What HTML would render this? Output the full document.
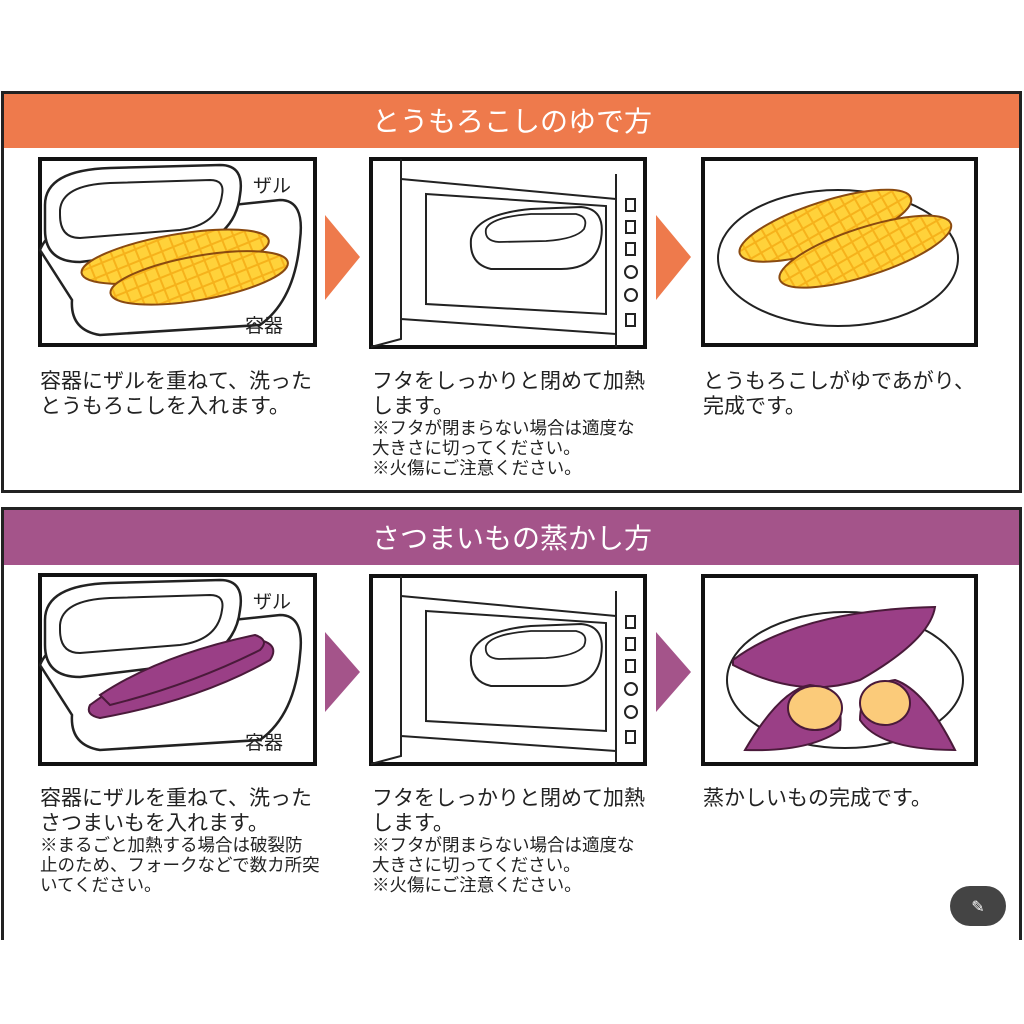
<!DOCTYPE html>
<html><head><meta charset="utf-8"><style>
html,body{margin:0;padding:0;background:#fff;width:1024px;height:1024px;overflow:hidden}
svg{position:absolute;left:0;top:0}
text{font-family:"Liberation Sans","Noto Sans CJK JP",sans-serif}
</style></head><body>
<svg width="1024" height="1024" viewBox="0 0 1024 1024">
<defs>
<pattern id="grid" width="12" height="12" patternUnits="userSpaceOnUse" patternTransform="rotate(-12)">
<rect width="12" height="12" fill="#F6B21B"/><rect x="1" y="1" width="10" height="10" fill="#FFD23A"/>
</pattern>
<g id="cont">
<path d="M40 250 Q50 225 90 220 L280 200 Q305 200 300 240 Q295 300 260 325 L100 335 Q70 330 72 300 Z" fill="#fff" stroke="#222" stroke-width="2.5"/>
<path d="M45 205 Q45 170 110 168 L220 165 Q245 165 240 195 Q235 240 180 250 L80 262 Q45 262 45 230 Z" fill="#fff" stroke="#222" stroke-width="2.5"/>
<path d="M60 210 Q62 185 110 183 L210 180 Q225 180 222 195 Q218 225 180 230 L80 238 Q60 238 60 215 Z" fill="none" stroke="#222" stroke-width="2"/>
</g>
<g id="micro">
<rect x="0" y="0" width="274" height="188" fill="#fff" stroke="#111" stroke-width="4"/>
<path d="M30 0 V180 L0 188 M30 20 L245 40 M30 160 L245 175 M245 15 V188" fill="none" stroke="#222" stroke-width="2"/>
<path d="M55 35 L235 47 V155 L55 145 Z" fill="none" stroke="#222" stroke-width="2"/>
<g fill="none" stroke="#222" stroke-width="2"><rect x="255" y="40" width="9" height="12"/><rect x="255" y="62" width="9" height="12"/><rect x="255" y="84" width="9" height="12"/><circle cx="260" cy="113" r="6"/><circle cx="260" cy="136" r="6"/><rect x="255" y="155" width="9" height="12"/></g>
<path d="M100 80 Q105 55 160 50 L210 48 Q235 50 230 80 Q225 110 190 110 L120 110 Q98 105 100 80 Z" fill="#fff" stroke="#222" stroke-width="2"/>
<path d="M115 70 Q120 58 160 55 L205 55 Q218 58 213 70 Q205 80 175 82 L128 83 Q113 82 115 70 Z" fill="none" stroke="#222" stroke-width="1.8"/>
</g>
</defs>

<rect x="2.5" y="92.5" width="1018" height="399" fill="#fff" stroke="#222" stroke-width="3"/>
<rect x="4" y="94" width="1015" height="54" fill="#EE7A4C"/>
<text x="512" y="131" font-size="28" fill="#fff" text-anchor="middle">とうもろこしのゆで方</text>

<rect x="40" y="159" width="275" height="186" fill="#fff" stroke="#111" stroke-width="4"/>
<use href="#cont"/>
<g transform="rotate(-10 185 255)">
<ellipse cx="175" cy="255" rx="95" ry="22" fill="url(#grid)" stroke="#8a4a10" stroke-width="2"/>
<ellipse cx="195" cy="280" rx="90" ry="22" fill="url(#grid)" stroke="#8a4a10" stroke-width="2"/>
</g>
<text x="253" y="192" font-size="19" fill="#222">ザル</text>
<text x="245" y="332" font-size="19" fill="#222">容器</text>

<polygon points="325,215 360,257 325,300" fill="#EE7A4C"/>
<g transform="translate(371,159)"><use href="#micro"/></g>
<polygon points="656,215 691,257 656,300" fill="#EE7A4C"/>

<rect x="703" y="159" width="273" height="186" fill="#fff" stroke="#111" stroke-width="4"/>
<ellipse cx="838" cy="258" rx="120" ry="68" fill="#fff" stroke="#222" stroke-width="2"/>
<g transform="rotate(-18 830 240)">
<ellipse cx="830" cy="225" rx="90" ry="24" fill="url(#grid)" stroke="#8a4a10" stroke-width="2"/>
<ellipse cx="860" cy="262" rx="90" ry="24" fill="url(#grid)" stroke="#8a4a10" stroke-width="2"/>
</g>

<g font-size="21" fill="#222">
<text x="40" y="388">容器にザルを重ねて、洗った</text>
<text x="40" y="413">とうもろこしを入れます。</text>
<text x="372" y="388">フタをしっかりと閉めて加熱</text>
<text x="372" y="413">します。</text>
<text x="703" y="388">とうもろこしがゆであがり、</text>
<text x="703" y="413">完成です。</text>
</g>
<g font-size="17.5" fill="#222">
<text x="372" y="434">※フタが閉まらない場合は適度な</text>
<text x="372" y="454">大きさに切ってください。</text>
<text x="372" y="474">※火傷にご注意ください。</text>
</g>

<path d="M2.5 940 V508.5 H1020.5 V940" fill="#fff" stroke="#222" stroke-width="3"/>
<rect x="4" y="510" width="1015" height="55" fill="#A4548A"/>
<text x="512" y="548" font-size="28" fill="#fff" text-anchor="middle">さつまいもの蒸かし方</text>

<rect x="40" y="575" width="275" height="189" fill="#fff" stroke="#111" stroke-width="4"/>
<g transform="translate(0,415)"><use href="#cont"/></g>
<path d="M90 705 Q150 660 260 640 Q280 645 270 660 Q200 700 100 718 Q85 715 90 705 Z" fill="#9A3F86" stroke="#4a1a3a" stroke-width="2"/>
<path d="M100 695 Q160 655 255 635 Q270 640 260 650 Q190 685 110 705 Z" fill="#9A3F86" stroke="#4a1a3a" stroke-width="2"/>
<text x="253" y="608" font-size="19" fill="#222">ザル</text>
<text x="245" y="749" font-size="19" fill="#222">容器</text>

<polygon points="325,632 360,672 325,712" fill="#A4548A"/>
<g transform="translate(371,576)"><use href="#micro"/></g>
<polygon points="656,632 691,672 656,712" fill="#A4548A"/>

<rect x="703" y="576" width="273" height="188" fill="#fff" stroke="#111" stroke-width="4"/>
<ellipse cx="845" cy="680" rx="118" ry="68" fill="#fff" stroke="#222" stroke-width="2"/>
<path d="M733 660 Q800 610 935 607 Q930 640 860 680 Q800 700 733 665 Z" fill="#9A3F86" stroke="#4a1a3a" stroke-width="2"/>
<path d="M745 750 Q780 690 810 685 Q845 690 840 730 Q810 752 745 750 Z" fill="#9A3F86" stroke="#4a1a3a" stroke-width="2"/>
<ellipse cx="815" cy="708" rx="27" ry="22" fill="#FBCB7A" stroke="#4a1a3a" stroke-width="2"/>
<path d="M955 750 Q925 690 895 680 Q860 685 860 720 Q880 750 955 750 Z" fill="#9A3F86" stroke="#4a1a3a" stroke-width="2"/>
<ellipse cx="885" cy="703" rx="25" ry="22" fill="#FBCB7A" stroke="#4a1a3a" stroke-width="2"/>

<g font-size="21" fill="#222">
<text x="40" y="805">容器にザルを重ねて、洗った</text>
<text x="40" y="830">さつまいもを入れます。</text>
<text x="372" y="805">フタをしっかりと閉めて加熱</text>
<text x="372" y="830">します。</text>
<text x="703" y="805">蒸かしいもの完成です。</text>
</g>
<g font-size="17.5" fill="#222">
<text x="40" y="851">※まるごと加熱する場合は破裂防</text>
<text x="40" y="871">止のため、フォークなどで数カ所突</text>
<text x="40" y="891">いてください。</text>
<text x="372" y="851">※フタが閉まらない場合は適度な</text>
<text x="372" y="871">大きさに切ってください。</text>
<text x="372" y="891">※火傷にご注意ください。</text>
</g>

<rect x="950" y="886" width="56" height="40" rx="20" fill="#444"/>
<text x="978" y="912" font-size="16" fill="#fff" text-anchor="middle">✎</text>
</svg>
</body></html>
